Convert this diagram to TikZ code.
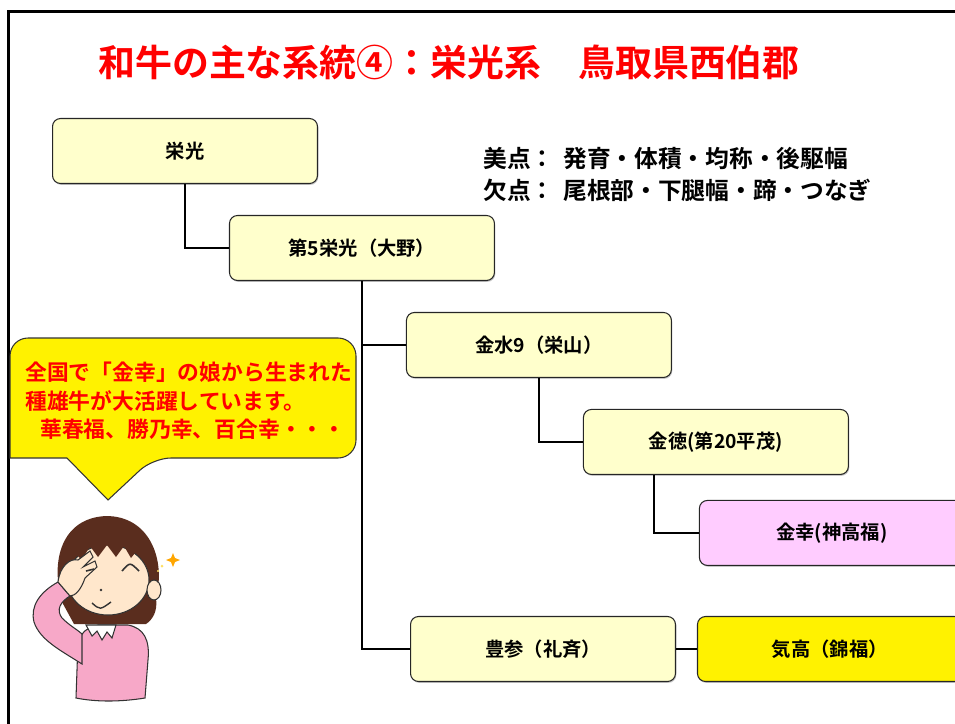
\documentclass[tikz,border=0pt]{standalone}
\usepackage{fontspec}
\setmainfont{Noto Sans CJK JP}[BoldFont={Noto Sans CJK JP Bold}]
\usetikzlibrary{positioning, shadows}
\definecolor{cream}{HTML}{FFFFCC}
\definecolor{lilac}{HTML}{FFCCFF}
\definecolor{hairbrown}{HTML}{5A2D1E}
\definecolor{skintone}{HTML}{FFE7CC}
\definecolor{sweaterpink}{HTML}{F7A8C8}

\begin{document}
\begin{tikzpicture}[x=0.02cm, y=-0.02cm, node distance = 1.94cm and 3.54cm, on grid]
        \def\colortitle{red}
        \def\colorline{black}
        \tikzset{lineage/.style={
                align=center,
                draw=black!85,
                line width=0.6pt,
                fill=cream,
                minimum width=5.3cm,
                minimum height=1.3cm,
                rounded corners=0.16cm,
                drop shadow={shadow xshift=0.5pt, shadow yshift=-0.8pt, opacity=0.45},
                font=\fontsize{11pt}{13pt}\selectfont\bfseries
        }}
        \tikzset{heading/.style={inner sep=0, text=\colortitle,
                font=\fontsize{21pt}{25pt}\selectfont\bfseries}}
        \tikzset{note/.style={inner sep=0, font=\fontsize{13.5pt}{16pt}\selectfont\bfseries}}
        \tikzset{talk/.style={inner sep=0, text=\colortitle,
                font=\fontsize{12.4pt}{15pt}\selectfont\bfseries}}
        \tikzset{connector/.style={draw=\colorline, line width=1.6pt}}
        \tikzset{outline/.style={draw=black!80, line width=0.6pt}}

        \useasboundingbox (0,0) rectangle (955,723);
        \clip (0,0) rectangle (955,723);

        % slide frame
        \draw[line width=1.7pt] (8.5,760) -- (8.5,11.5) -- (990,11.5);

        % title
        \node[heading, anchor=west] (title) at (98,62) {和牛の主な系統④：栄光系};
        \node[heading, anchor=west] (area) at (578,62) {鳥取県西伯郡};

        % strong and weak points
        \node[note, anchor=west] (merit) at (483,158) {美点：\hspace{5pt}発育・体積・均称・後駆幅};
        \node[note, anchor=west] (fault) at (483,190) {欠点：\hspace{5pt}尾根部・下腿幅・蹄・つなぎ};

        % pedigree
        \node[lineage] (eiko) at (185,151) {栄光};
        \node[lineage, below right=of eiko] (dai5) {第5栄光（大野）};
        \node[lineage, below right=of dai5] (kinsui) {金水9（栄山）};
        \node[lineage, below right=of kinsui] (kintoku) {金徳(第20平茂)};
        \node[lineage, fill=lilac, below right=1.82cm and 2.32cm of kintoku] (kinko) {金幸(神高福)};
        \node[lineage] (hosan) at (543,649) {豊参（礼斉）};
        \node[lineage, fill=yellow, right=5.74cm of hosan] (kedaka) {気高（錦福）};

        \draw[connector] (eiko.south) |- (dai5.west);
        \draw[connector] (dai5.south) |- (kinsui.west);
        \draw[connector] (dai5.south) |- (hosan.west);
        \draw[connector] (kinsui.south) |- (kintoku.west);
        \draw[connector] ([xshift=-1.24cm]kintoku.south) |- (kinko.west);
        \draw[connector] (hosan) -- (kedaka);

        % speech bubble
        \draw[outline, fill=yellow] (108,500) -- (67,458) -- (10,458) [rounded corners=0.36cm]
                -- (10,338) -- (356,338) -- (356,458) -- (153,458) [sharp corners] -- cycle;
        \node[talk, anchor=west] (talk1) at (25,372) {全国で「金幸」の娘から生まれた};
        \node[talk, anchor=west] (talk2) at (25,401) {種雄牛が大活躍しています。};
        \node[talk, anchor=west] (talk3) at (40,429) {華春福、勝乃幸、百合幸・・・};

        % girl
        \fill[hairbrown] (62,602) .. controls (50,560) and (62,518) .. (106,516)
                .. controls (150,516) and (166,560) .. (156,598)
                .. controls (158,612) and (152,620) .. (146,624) -- (74,624) -- cycle;
        \filldraw[outline, fill=sweaterpink] (76,698) -- (78,642) .. controls (84,630) .. (98,625)
                -- (128,625) .. controls (144,628) and (150,640) .. (148,660) -- (145,698)
                .. controls (120,702) and (96,702) .. cycle;
        \filldraw[outline, fill=white] (86,625) -- (92,636) -- (97,631) -- (102,640) -- (107,632)
                -- (112,638) -- (116,625) -- cycle;
        \filldraw[outline, fill=skintone] (108,580) ellipse [x radius=41, y radius=35];
        \filldraw[outline, fill=skintone] (154,590) ellipse [x radius=7, y radius=10];
        \fill[hairbrown] (66,572) .. controls (60,532) and (84,518) .. (108,518)
                .. controls (136,518) and (154,536) .. (150,570) -- (144,558) -- (139,548)
                -- (131,558) -- (124,546) -- (116,557) -- (107,545) -- (98,557) -- (90,546)
                -- (82,560) -- (74,552) -- cycle;
        \filldraw[outline, fill=sweaterpink] (82,664) .. controls (60,650) and (40,640) .. (34,622)
                .. controls (30,606) and (40,592) .. (58,582) -- (70,596)
                .. controls (60,602) and (56,610) .. (62,618)
                .. controls (70,626) and (78,630) .. (82,634) -- cycle;
        \filldraw[outline, fill=skintone] (58,582) .. controls (60,566) and (70,558) .. (78,560)
                -- (90,551) -- (93,557) -- (83,567) -- (95,561) -- (97,567) -- (85,578)
                .. controls (81,590) and (75,596) .. (70,596) -- cycle;
        \draw[outline, line width=0.9pt] (122,571) .. controls (130,562) .. (139,571);
        \draw[outline, line width=0.9pt] (86,571) -- (94,569);
        \fill[black!80] (101,590) circle [radius=1.4];
        \draw[outline, line width=0.8pt] (92,603) .. controls (100,610) .. (111,602);
        \fill[orange!70!yellow] (173,553) -- (175,558) -- (180,560) -- (175,562) -- (173,567)
                -- (171,562) -- (166,560) -- (171,558) -- cycle;
        \fill[orange!40!yellow!60] (162,566) circle [radius=1.5] (158,571) circle [radius=1.2];
\end{tikzpicture}
\end{document}
